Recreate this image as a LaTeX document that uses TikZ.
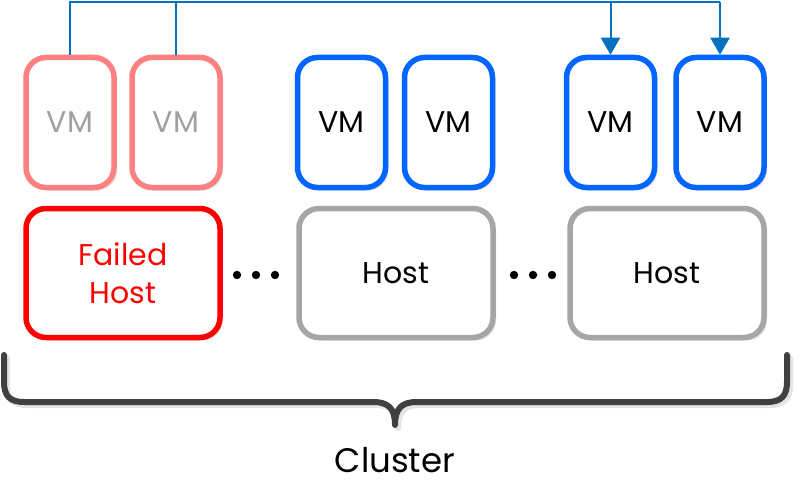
\documentclass[tikz,border=0pt]{standalone}
\usepackage{fontspec}
\setmainfont{Poppins}
\usetikzlibrary{arrows.meta,shadows}
\definecolor{vmred}{HTML}{FF8080}
\definecolor{vmgray}{HTML}{A0A0A0}
\definecolor{vmblue}{HTML}{0066FF}
\definecolor{hostgray}{HTML}{A6A6A6}
\definecolor{failred}{HTML}{FF0000}
\definecolor{bracegray}{HTML}{404040}
\definecolor{connblue}{HTML}{0070C0}
\definecolor{shadowgray}{HTML}{E4E4E4}
\tikzset{
  box/.style={rectangle, rounded corners=20pt, line width=5.5pt, fill=white,
    drop shadow={shadow xshift=3pt, shadow yshift=-3pt, fill=shadowgray, opacity=1},
    align=center, font=\fontsize{30}{38}\selectfont},
  vmbox/.style={box, minimum width=88pt, minimum height=130pt},
  hostbox/.style={box, minimum width=194pt, minimum height=129pt},
  failedvm/.style={vmbox, draw=vmred, text=vmgray},
  livevm/.style={vmbox, draw=vmblue, text=black},
  conn/.style={draw=connblue, line width=2pt},
  tip/.style={-{Triangle[length=17pt,width=19pt]}},
  dot/.style={fill=black},
}
\begin{document}
\begin{tikzpicture}[x=1pt,y=-1pt]
\useasboundingbox[fill=white] (0,0) rectangle (794,500);
\node[failedvm] (vm1) at (70,122.5) {VM};
\node[failedvm] (vm2) at (176,122.5) {VM};
\node[livevm] (vm3) at (341.5,122.5) {VM};
\node[livevm] (vm4) at (448.5,122.5) {VM};
\node[livevm] (vm5) at (610.5,122.5) {VM};
\node[livevm] (vm6) at (720,122.5) {VM};
\node[hostbox, draw=failred, text=failred] (h1) at (123,273) {Failed\\Host};
\node[hostbox, draw=hostgray] (h2) at (396,273) {Host};
\node[hostbox, draw=hostgray] (h3) at (667,273) {Host};
\coordinate (top) at (0,2);
\draw[conn] (vm1.north) -- (vm1.north |- top) -- (vm6.north |- top);
\draw[conn] (vm2.north) -- (vm2.north |- top);
\draw[conn, tip] (vm5.north |- top) -- (vm5.north);
\draw[conn, tip] (vm6.north |- top) -- (vm6.north);
\foreach \x in {237,256,275,514,533,552} \fill[dot] (\x,275) circle (4.2pt);
\def\bracepath{(4,355) -- (4,382) .. controls (4,396) and (10,402) .. (24,402) -- (373,402) .. controls (388,402) and (395,408) .. (395,425)
  (787,355) -- (787,382) .. controls (787,396) and (781,402) .. (767,402) -- (417,402) .. controls (402,402) and (395,408) .. (395,425)}
\draw[shadowgray, line width=6pt, line cap=round, xshift=3pt, yshift=-3pt] \bracepath;
\draw[bracegray, line width=6pt, line cap=round] \bracepath;
\node[font=\fontsize{34}{40}\selectfont] (cluster) at (395,460) {Cluster};
\end{tikzpicture}
\end{document}
